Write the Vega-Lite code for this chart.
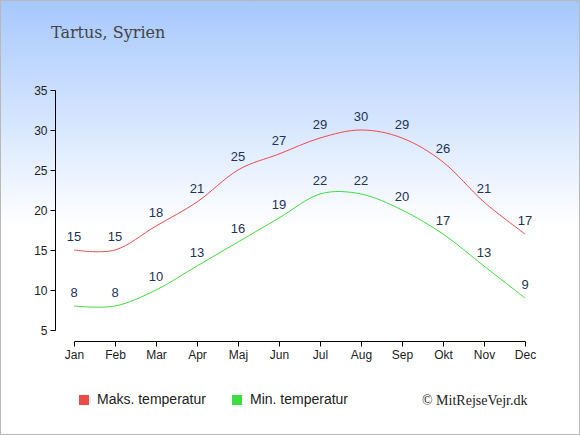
{
  "$schema": "https://vega.github.io/schema/vega-lite/v6.json",
  "width": 580,
  "height": 435,
  "autosize": {"type": "none"},
  "padding": 0,
  "title": {"text": "Tartus, Syrien", "anchor": "start", "frame": "group", "dx": 51, "dy": 16, "offset": -38, "baseline": "alphabetic", "font": "DejaVu Serif", "fontSize": 16, "fontWeight": "normal", "color": "#444444"},
  "config": {
    "view": {"stroke": "#b8b8b8", "strokeWidth": 2, "fill": {"gradient": "linear", "x1": 0, "y1": 0, "x2": 0, "y2": 1, "stops": [{"offset": 0, "color": "#a6c8fe"}, {"offset": 0.52, "color": "#ffffff"}, {"offset": 1, "color": "#ffffff"}]}},
    "axis": {"grid": false, "domainColor": "#000000", "tickColor": "#000000", "tickSize": 5, "labelFont": "Liberation Sans", "labelFontSize": 12, "labelColor": "#222222", "domainWidth": 1, "tickWidth": 1}
  },
  "data": {"values": [
    {"month": 1, "serie": "Maks. temperatur", "temp": 15},
    {"month": 2, "serie": "Maks. temperatur", "temp": 15},
    {"month": 3, "serie": "Maks. temperatur", "temp": 18},
    {"month": 4, "serie": "Maks. temperatur", "temp": 21},
    {"month": 5, "serie": "Maks. temperatur", "temp": 25},
    {"month": 6, "serie": "Maks. temperatur", "temp": 27},
    {"month": 7, "serie": "Maks. temperatur", "temp": 29},
    {"month": 8, "serie": "Maks. temperatur", "temp": 30},
    {"month": 9, "serie": "Maks. temperatur", "temp": 29},
    {"month": 10, "serie": "Maks. temperatur", "temp": 26},
    {"month": 11, "serie": "Maks. temperatur", "temp": 21},
    {"month": 12, "serie": "Maks. temperatur", "temp": 17},
    {"month": 1, "serie": "Min. temperatur", "temp": 8},
    {"month": 2, "serie": "Min. temperatur", "temp": 8},
    {"month": 3, "serie": "Min. temperatur", "temp": 10},
    {"month": 4, "serie": "Min. temperatur", "temp": 13},
    {"month": 5, "serie": "Min. temperatur", "temp": 16},
    {"month": 6, "serie": "Min. temperatur", "temp": 19},
    {"month": 7, "serie": "Min. temperatur", "temp": 22},
    {"month": 8, "serie": "Min. temperatur", "temp": 22},
    {"month": 9, "serie": "Min. temperatur", "temp": 20},
    {"month": 10, "serie": "Min. temperatur", "temp": 17},
    {"month": 11, "serie": "Min. temperatur", "temp": 13},
    {"month": 12, "serie": "Min. temperatur", "temp": 9}
  ]},
  "encoding": {
    "x": {"field": "month", "type": "quantitative", "scale": {"domain": [1, 12], "range": [74, 525], "nice": false, "zero": false},
      "axis": {"values": [1,2,3,4,5,6,7,8,9,10,11,12], "labelExpr": "['Jan','Feb','Mar','Apr','Maj','Jun','Jul','Aug','Sep','Okt','Nov','Dec'][datum.value-1]", "offset": -94, "labelPadding": 3, "labelFlush": false, "labelOverlap": false,
        "title": "© MitRejseVejr.dk", "titleFont": "Liberation Serif", "titleFontSize": 14, "titleFontWeight": "normal", "titleColor": "#222222", "titleAnchor": null, "titleX": 527, "titleY": 63, "titleAlign": "right", "titleBaseline": "alphabetic"}},
    "y": {"field": "temp", "type": "quantitative", "scale": {"domain": [5, 35], "range": [330, 90], "nice": false, "zero": false},
      "axis": {"values": [5,10,15,20,25,30,35], "offset": -55, "title": null, "labelPadding": 3}}
  },
  "layer": [
    {
      "mark": {"type": "line", "interpolate": "cardinal", "strokeWidth": 1},
      "encoding": {
        "color": {"field": "serie", "type": "nominal", "scale": {"domain": ["Maks. temperatur", "Min. temperatur"], "range": ["#ef4a4a", "#3ddf3d"]},
          "legend": {"title": null, "orient": "none", "legendX": 77, "legendY": 393, "direction": "horizontal", "symbolType": "square", "symbolSize": 100, "symbolStrokeWidth": 0, "symbolOpacity": 1, "labelFont": "Liberation Sans", "labelFontSize": 14, "labelColor": "#222222", "labelOffset": 6, "columnPadding": 24, "padding": 0,
            "encode": {"symbols": {"update": {"fill": {"scale": "color", "field": "value"}, "fillOpacity": {"value": 1}}}}}}
      }
    },
    {
      "mark": {"type": "text", "dy": -13, "fontSize": 13, "font": "Liberation Sans", "color": "#223355"},
      "encoding": {"text": {"field": "temp", "type": "quantitative"}}
    }
  ]
}
